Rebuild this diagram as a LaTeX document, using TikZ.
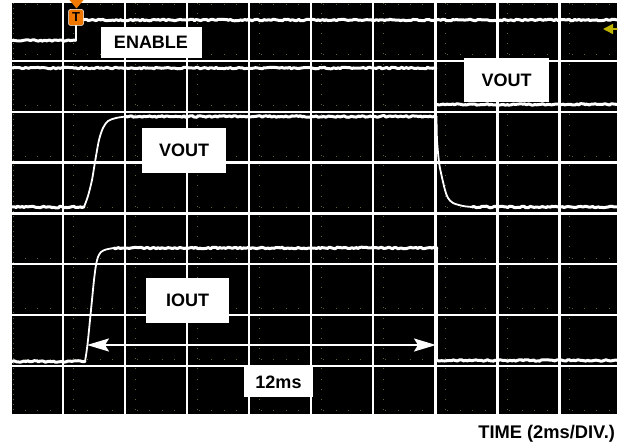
\documentclass[tikz,border=0pt]{standalone}
\usepackage{fontspec}
\setmainfont{Liberation Sans}
\usetikzlibrary{arrows.meta,decorations.pathmorphing}
\definecolor{scopetick}{RGB}{95,95,60}
\definecolor{trigorange}{RGB}{240,120,0}
\definecolor{refyellow}{RGB}{190,180,0}

\begin{document}
\pgfmathsetseed{11}
\begin{tikzpicture}[x=1pt, y=-1pt, line join=round, line cap=round, >=stealth,
	font=\fontsize{18}{20}\selectfont\bfseries,
	tag/.style={fill=white, text=black, inner sep=0pt},
	gridline/.style={white, line width=2.4pt, line cap=butt},
	trace/.style={white, line width=3pt, decorate, decoration={random steps, segment length=2pt, amplitude=0.8pt}},
	slope/.style={white, line width=1.8pt}]
	\useasboundingbox (0,0) rectangle (633,443);
	% screen
	\fill[black] (12,3) rectangle (617,414);
	\begin{scope}
		\clip (12,3) rectangle (617,414);
		% minor ticks
		\foreach \r in {0,...,8}
		\foreach \c in {1,...,48}
		\fill[scopetick] ({12.6+12.42*\c},{3.6+50.8*\r}) rectangle ++(1,1);
		\foreach \k in {0,...,8}
		\foreach \m in {0,...,40}
		\fill[scopetick] ({72.6+62.1*\k},{2.6+10.16*\m}) rectangle ++(1,1);
		\foreach \m in {0,...,80}
		\fill[scopetick] (12.5,{2.6+5.08*\m}) rectangle ++(1.2,0.8);
		% grid
		\foreach \k in {0,...,8}
		\draw[gridline] ({62.7+62.1*\k},3) -- ({62.7+62.1*\k},414);
		\foreach \k in {0,...,6}
		\draw[gridline] (12,{61+50.8*\k}) -- (617,{61+50.8*\k});
		% enable
		\draw[trace] (12,40.5) -- (75.5,40.5);
		\draw[slope] (76,40.5) -- (76,20);
		\draw[trace] (76.5,20) -- (617,20);
		% vout (upper channel)
		\draw[trace] (12,68) -- (436,68);
		\draw[slope] (436.5,68) -- (436.5,104.5);
		\draw[trace] (437,104.5) -- (617,104.5);
		% vout (middle channel)
		\draw[trace] (12,207) -- (84,207);
		\draw[slope] plot[smooth] coordinates {(84,207) (88,196) (92,180) (95,162) (99,140) (103,128) (108,121) (116,118) (126,116.5)};
		\draw[trace] (126,116.5) -- (436,116.5);
		\draw[slope] plot[smooth] coordinates {(436.5,116.5) (437,140) (439,162) (441,173) (445,190) (448,198) (453,203) (463,206) (472,207)};
		\draw[trace] (472,207) -- (617,207);
		% iout
		\draw[trace] (12,361.5) -- (85,361.5);
		\draw[slope] plot[smooth] coordinates {(85,361.5) (86.5,352) (88,340) (90,320) (92,300) (94,280) (96,265) (98,257) (101,252) (106,249.5) (114,248)};
		\draw[trace] (114,248) -- (437,248);
		\draw[slope] (437,248) -- (437,360.5);
		\draw[trace] (437.5,360.5) -- (617,360.5);
	\end{scope}
	% labels
	\node[tag, minimum width=101pt, minimum height=31pt] (enable) at (151,42.5) {ENABLE};
	\node[tag, minimum width=85pt, minimum height=44pt] (voutA) at (506.5,80) {VOUT};
	\node[tag, minimum width=84pt, minimum height=45pt] (voutB) at (184,150.5) {VOUT};
	\node[tag, minimum width=83pt, minimum height=45pt] (iout) at (187.5,300.5) {IOUT};
	\node[tag, minimum width=69pt, minimum height=30pt] (span) at (278.5,382) {12ms};
	\node[anchor=base east, font=\fontsize{18.3}{20}\selectfont\bfseries] (timeaxis) at (618.5,438.3) {TIME (2ms/DIV.)};
	% 12ms span
	\coordinate (tA) at (87,345);
	\coordinate (tB) at (436,345);
	\draw[white, line width=2pt, {Stealth[length=22pt,width=13pt,inset=4pt]}-{Stealth[length=22pt,width=13pt,inset=4pt]}] (tA) -- (tB);
	% trigger and reference markers
	\fill[trigorange] (69.5,0) -- (83.5,0) -- (76.5,8.5) -- cycle;
	\node[fill=trigorange, draw=white, line width=0.5pt, rounded corners=2pt, minimum width=15pt, minimum height=16pt, inner sep=0pt, font=\fontsize{13}{13}\selectfont\bfseries] (trig) at (76,17.5) {T};
	\coordinate (refR) at (617,29);
	\coordinate (refL) at (603,29);
	\draw[refyellow, line width=1.5pt, -{Triangle[length=10pt,width=10pt]}] (refR) -- (refL);
\end{tikzpicture}
\end{document}
